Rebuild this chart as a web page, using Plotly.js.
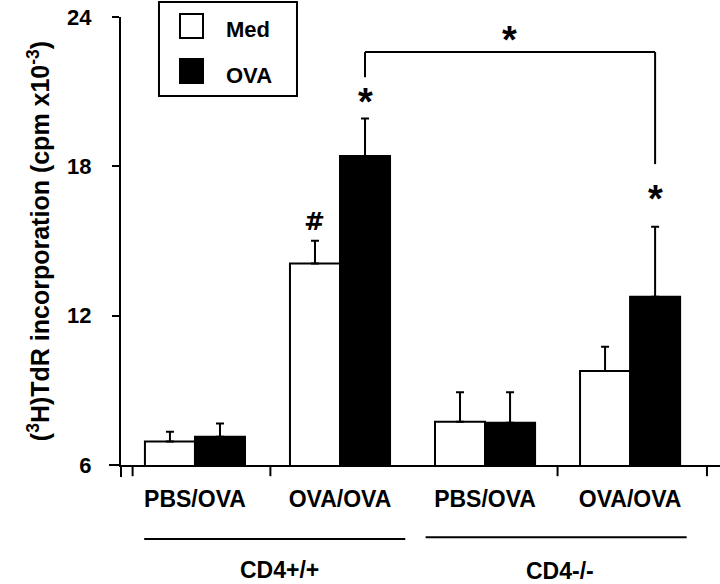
<!DOCTYPE html>
<html>
<head>
<meta charset="utf-8">
<script src="https://cdn.plot.ly/plotly-3.0.1.min.js"></script>
<style>html,body{margin:0;padding:0;background:#fff;}#chart{width:720px;height:584px;}</style>
</head>
<body>
<div id="chart"></div>
<script>
// ---- data ----
const tickLabels = ['PBS/OVA', 'OVA/OVA', 'PBS/OVA', 'OVA/OVA'];
const groupLabels = ['CD4+/+', 'CD4-/-'];
const seriesNames = ['Med', 'OVA'];
const medValues = [6.94, 14.10, 7.74, 9.78];
const medErrors = [0.40, 0.91, 1.18, 0.97];
const ovaValues = [7.14, 18.42, 7.70, 12.76];
const ovaErrors = [0.53, 1.50, 1.22, 2.81];
const yTicks = [6, 12, 18, 24];

const xPos = tickLabels.map((_, i) => i);
const FONT = 'Liberation Sans, Arial, Helvetica, sans-serif';
const zeros = xPos.map(() => 0);
const B = (s) => '<b>' + s + '</b>';

function barTrace(name, vals, errs, fill) {
  return {
    type: 'bar', name: name, x: xPos, y: vals,
    marker: {color: fill, line: {color: '#000', width: 2}},
    error_y: {type: 'data', symmetric: false, array: errs, arrayminus: zeros,
              color: '#000', thickness: 2, width: 4},
    showlegend: false, hoverinfo: 'skip'
  };
}
const traces = [
  barTrace(seriesNames[0], medValues, medErrors, '#ffffff'),
  barTrace(seriesNames[1], ovaValues, ovaErrors, '#000000')
];

const half = 0.69 / 4; // center offset of each bar within a group
const line = (x0, y0, x1, y1, xref, yref) => ({type: 'line', x0, y0, x1, y1, xref, yref,
  line: {color: '#000', width: 2}, layer: 'above'});

const shapes = [
  // axis extensions
  line(0, 0, 0, -0.027, 'paper', 'paper'),
  line(-0.02, 0, 0, 0, 'paper', 'paper'),
  // small ticks below the axis
  line(-0.43, 0, -0.43, -0.025, 'x', 'paper'),
  line(0.52, 0, 0.52, -0.025, 'x', 'paper'),
  line(2.50, 0, 2.50, -0.025, 'x', 'paper'),
  line(3.53, 0, 3.53, -0.025, 'x', 'paper'),
  // group underlines
  line(-0.35, -0.165, 1.45, -0.165, 'x', 'paper'),
  line(1.59, -0.161, 3.39, -0.161, 'x', 'paper'),
  // significance bracket
  line(1 + half, 21.58, 1 + half, 22.59, 'x', 'y'),
  line(1 + half, 22.59, 3 + half, 22.59, 'x', 'y'),
  line(3 + half, 22.59, 3 + half, 18.09, 'x', 'y'),
  // legend box and swatches
  {type: 'rect', xref: 'paper', yref: 'paper', x0: 0.0634, x1: 0.2938, y0: 0.8237, y1: 1.0335,
   line: {color: '#000', width: 2}, fillcolor: 'rgba(0,0,0,0)'},
  {type: 'rect', xref: 'paper', yref: 'paper', x0: 0.0985, x1: 0.1369, y0: 0.9531, y1: 1.0067,
   line: {color: '#000', width: 2}, fillcolor: '#fff'},
  {type: 'rect', xref: 'paper', yref: 'paper', x0: 0.0985, x1: 0.1369, y0: 0.8527, y1: 0.9063,
   line: {color: '#000', width: 2}, fillcolor: '#000'}
];

const bold = (s, fam) => ({family: fam || FONT, size: s, color: '#000', weight: 700});
const annotations = [
  {text: B(seriesNames[0]), xref: 'paper', yref: 'paper', x: 0.172, y: 0.972, xanchor: 'left', yanchor: 'middle', showarrow: false, font: bold(22)},
  {text: B(seriesNames[1]), xref: 'paper', yref: 'paper', x: 0.172, y: 0.8705, xanchor: 'left', yanchor: 'middle', showarrow: false, font: bold(22)},
  {text: B(groupLabels[0]), xref: 'x', yref: 'paper', x: 0.586, y: -0.235, yanchor: 'middle', showarrow: false, font: bold(23)},
  {text: B(groupLabels[1]), xref: 'x', yref: 'paper', x: 2.52, y: -0.236, yanchor: 'middle', showarrow: false, font: bold(23)},
  {text: B('#'), xref: 'x', yref: 'y', x: 1 - half, y: 15.8, yanchor: 'middle', showarrow: false, font: bold(25, 'DejaVu Sans')},
  {text: B('*'), xref: 'x', yref: 'y', x: 1 + half, y: 20.78, yanchor: 'middle', showarrow: false, font: bold(38), yshift: -5},
  {text: B('*'), xref: 'x', yref: 'y', x: 2.17, y: 23.3, yanchor: 'middle', showarrow: false, font: bold(38), yshift: -6},
  {text: B('*'), xref: 'x', yref: 'y', x: 3 + half, y: 16.92, yanchor: 'middle', showarrow: false, font: bold(38), yshift: -6}
];

const layout = {
  width: 720, height: 584,
  margin: {l: 121, r: 0, t: 17, b: 119, pad: 0},
  paper_bgcolor: '#fff', plot_bgcolor: '#fff',
  font: bold(21),
  barmode: 'group', bargap: 0.31, bargroupgap: 0,
  showlegend: false,
  xaxis: {
    type: 'linear', range: [-0.51, 3.62], tickmode: 'array', tickvals: xPos, ticktext: tickLabels.map(B),
    showline: true, linecolor: '#000', linewidth: 2, ticks: '', showgrid: false, zeroline: false,
    tickfont: bold(23), ticklabelstandoff: 12, fixedrange: true
  },
  yaxis: {
    range: [6, 24], tickmode: 'array', tickvals: yTicks, ticktext: yTicks.map(v => B(String(v))),
    showline: true, linecolor: '#000', linewidth: 2, ticks: 'outside', ticklen: 7, tickwidth: 2, tickcolor: '#000',
    showgrid: false, zeroline: false, tickfont: bold(22), ticklabelstandoff: 16,
    title: {text: B('(<sup>3</sup>H)TdR incorporation (cpm x10<sup>-3</sup>)'), font: bold(25), standoff: 10},
    fixedrange: true
  },
  shapes: shapes,
  annotations: annotations
};

Plotly.newPlot('chart', traces, layout, {staticPlot: true, displayModeBar: false});
</script>
</body>
</html>
